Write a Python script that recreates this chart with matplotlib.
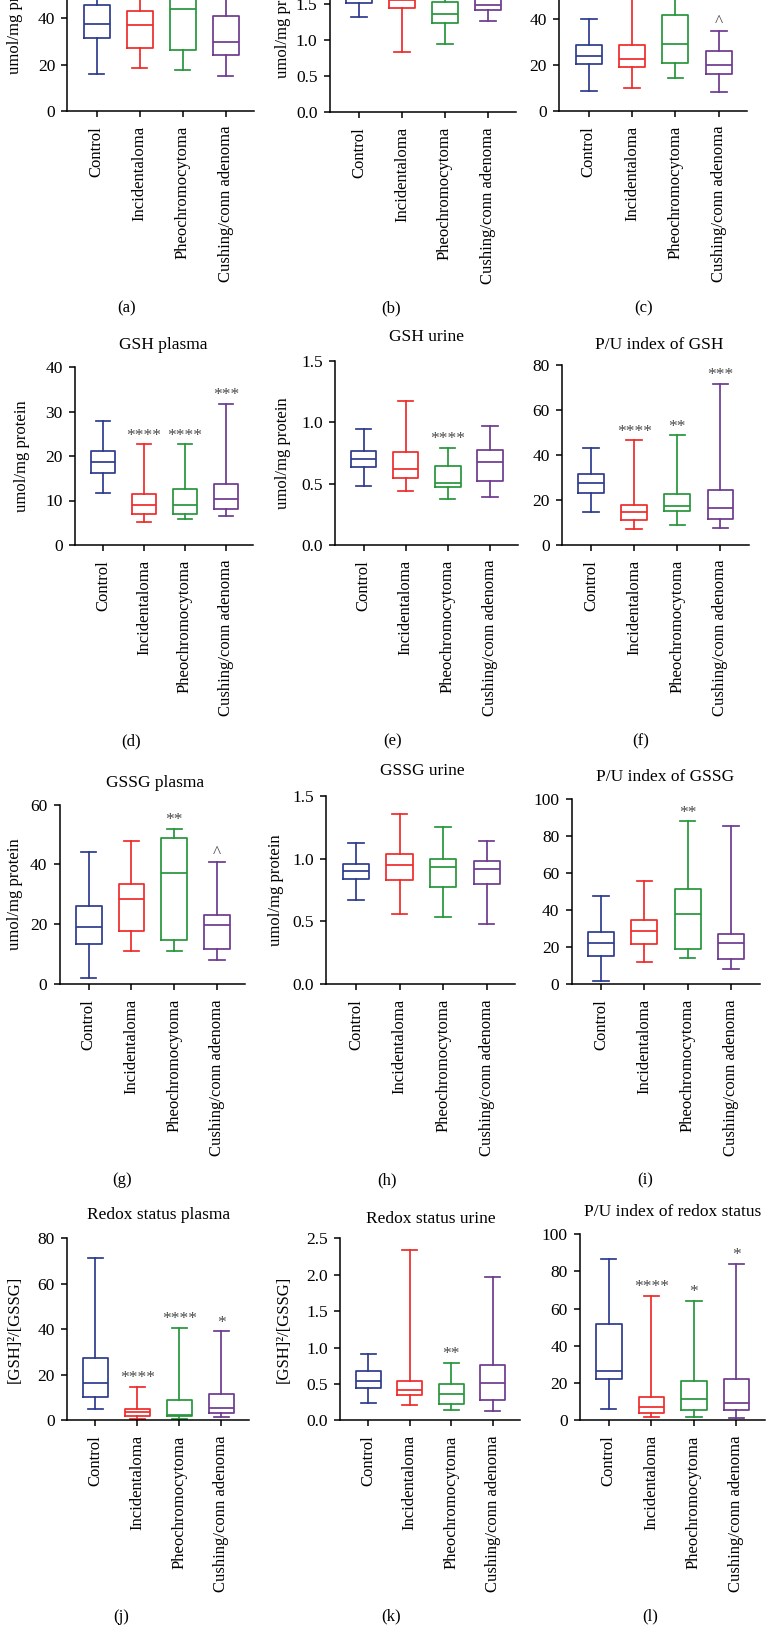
import numpy as np
import matplotlib
matplotlib.use("Agg")
import matplotlib.pyplot as plt

plt.rcParams['font.family'] = ['Liberation Serif', 'DejaVu Serif']

W, H = 766.0, 1625.0

groups = ["Control", "Incidentaloma", "Pheochromocytoma", "Cushing/conn adenoma"]
colors = ["#2d3b8e", "#ee2a2a", "#27963a", "#6c3b8f"]

# box statistics per panel: low whisker, Q1, median, Q3, high whisker
a_low = [15.9, 18.7, 17.6, 15.3]
a_q1 = [31.7, 27.4, 26.4, 24.0]
a_med = [37.4, 37.0, 44.0, 29.9]
a_q3 = [45.6, 43.3, 52.0, 40.9]
a_high = [58.0, 62.0, 68.0, 55.0]
a_marks = ["", "", "", ""]

b_low = [1.315, 0.84, 0.94, 1.27]
b_q1 = [1.52, 1.44, 1.23, 1.41]
b_med = [1.60, 1.55, 1.357, 1.48]
b_q3 = [1.70, 1.65, 1.53, 1.60]
b_high = [1.95, 2.0, 1.75, 1.8]
b_marks = ["", "", "", ""]

c_low = [8.8, 10.1, 14.5, 8.4]
c_q1 = [20.4, 19.0, 20.9, 16.1]
c_med = [24.0, 22.6, 29.3, 20.1]
c_q3 = [28.8, 29.0, 41.9, 26.1]
c_high = [40.0, 60.0, 62.0, 35.1]
c_marks = ["", "", "", "^"]

d_low = [11.7, 5.2, 5.8, 6.5]
d_q1 = [16.1, 6.9, 6.9, 8.2]
d_med = [18.7, 9.0, 9.1, 10.4]
d_q3 = [21.1, 11.5, 12.6, 13.6]
d_high = [27.9, 22.6, 22.6, 31.7]
d_marks = ["", "****", "****", "***"]

e_low = [0.478, 0.443, 0.373, 0.389]
e_q1 = [0.636, 0.544, 0.470, 0.522]
e_med = [0.701, 0.617, 0.503, 0.679]
e_q3 = [0.769, 0.760, 0.641, 0.777]
e_high = [0.943, 1.174, 0.793, 0.972]
e_marks = ["", "", "****", ""]

f_low = [14.5, 7.1, 8.9, 7.7]
f_q1 = [23.1, 11.2, 15.1, 11.4]
f_med = [27.4, 14.5, 17.4, 16.5]
f_q3 = [31.6, 17.9, 22.6, 24.5]
f_high = [43.0, 46.4, 48.6, 71.5]
f_marks = ["", "****", "**", "***"]

g_low = [2.0, 11.0, 11.1, 7.9]
g_q1 = [13.4, 17.6, 14.6, 11.7]
g_med = [19.0, 28.4, 37.1, 19.6]
g_q3 = [26.0, 33.5, 48.8, 23.1]
g_high = [44.1, 47.8, 51.9, 40.9]
g_marks = ["", "", "**", "^"]

h_low = [0.668, 0.561, 0.535, 0.481]
h_q1 = [0.836, 0.828, 0.774, 0.796]
h_med = [0.904, 0.950, 0.931, 0.920]
h_q3 = [0.960, 1.035, 0.995, 0.984]
h_high = [1.128, 1.354, 1.253, 1.139]
h_marks = ["", "", "", ""]

i_low = [1.8, 11.7, 13.9, 8.1]
i_q1 = [15.0, 21.6, 18.8, 13.4]
i_med = [22.3, 28.8, 37.7, 22.3]
i_q3 = [28.3, 34.8, 51.0, 27.2]
i_high = [47.6, 55.7, 87.7, 85.4]
i_marks = ["", "", "**", ""]

j_low = [5.1, 0.7, 0.5, 1.6]
j_q1 = [10.2, 2.0, 1.7, 3.1]
j_med = [16.5, 3.5, 2.3, 5.3]
j_q3 = [27.5, 5.1, 8.8, 11.4]
j_high = [71.5, 14.8, 40.7, 39.1]
j_marks = ["", "****", "****", "*"]

k_low = [0.242, 0.206, 0.138, 0.128]
k_q1 = [0.440, 0.344, 0.220, 0.275]
k_med = [0.545, 0.421, 0.358, 0.509]
k_q3 = [0.674, 0.536, 0.503, 0.765]
k_high = [0.912, 2.343, 0.792, 1.962]
k_marks = ["", "", "**", ""]

l_low = [6.1, 1.6, 1.9, 1.2]
l_q1 = [22.3, 3.9, 5.5, 5.5]
l_med = [26.6, 7.0, 11.6, 9.3]
l_q3 = [51.7, 12.3, 21.3, 22.3]
l_high = [86.7, 66.7, 64.0, 84.1]
l_marks = ["", "****", "*", "*"]

titles = ["", "", "", "GSH plasma", "GSH urine", "P/U index of GSH",
          "GSSG plasma", "GSSG urine", "P/U index of GSSG",
          "Redox status plasma", "Redox status urine", "P/U index of redox status"]
ylabels = ["umol/mg protein", "umol/mg protein", "",
           "umol/mg protein", "umol/mg protein", "",
           "umol/mg protein", "umol/mg protein", "",
           "[GSH]\u00b2/[GSSG]", "[GSH]\u00b2/[GSSG]", ""]
yticks = [np.arange(0, 81, 20), np.arange(0, 2.51, 0.5), np.arange(0, 81, 20),
          np.arange(0, 41, 10), np.arange(0, 1.51, 0.5), np.arange(0, 81, 20),
          np.arange(0, 61, 20), np.arange(0, 1.51, 0.5), np.arange(0, 101, 20),
          np.arange(0, 81, 20), np.arange(0, 2.51, 0.5), np.arange(0, 101, 20)]
tickfmt = ["%d", "%.1f", "%d", "%d", "%.1f", "%d", "%d", "%.1f", "%d", "%d", "%.1f", "%d"]

data = [
    (a_low, a_q1, a_med, a_q3, a_high, a_marks),
    (b_low, b_q1, b_med, b_q3, b_high, b_marks),
    (c_low, c_q1, c_med, c_q3, c_high, c_marks),
    (d_low, d_q1, d_med, d_q3, d_high, d_marks),
    (e_low, e_q1, e_med, e_q3, e_high, e_marks),
    (f_low, f_q1, f_med, f_q3, f_high, f_marks),
    (g_low, g_q1, g_med, g_q3, g_high, g_marks),
    (h_low, h_q1, h_med, h_q3, h_high, h_marks),
    (i_low, i_q1, i_med, i_q3, i_high, i_marks),
    (j_low, j_q1, j_med, j_q3, j_high, j_marks),
    (k_low, k_q1, k_med, k_q3, k_high, k_marks),
    (l_low, l_q1, l_med, l_q3, l_high, l_marks),
]

# layout in pixels: y-axis x, x-axis end, y of zero, y of top of axes
frames = [
    (67.4, 254.0, 111.0, -74.4), (329.7, 516.3, 112.0, -68.0), (559.3, 747.4, 111.0, -72.4),
    (75.0, 253.0, 545.0, 367.0), (335.1, 517.8, 545.0, 360.7), (561.8, 748.9, 545.0, 364.7),
    (59.6, 245.2, 984.0, 804.7), (326.3, 515.4, 984.0, 796.0), (571.6, 759.6, 984.0, 798.7),
    (66.9, 249.1, 1420.3, 1238.3), (340.0, 520.3, 1420.3, 1238.3), (579.9, 764.5, 1420.3, 1234.0),
]
title_pos = [None, None, None,
             (163.6, 345.0), (426.5, 337.3), (659.5, 345.0),
             (155.3, 783.3), (422.6, 770.7), (665.4, 776.7),
             (158.8, 1215.0), (430.9, 1219.0), (672.7, 1212.3)]
ylabel_x = [14.7, 283.3, None, 22.0, 283.3, None, 14.7, 276.0, None, 14.7, 283.3, None]
letter_pos = [(127, 308), (391, 308), (644, 308),
              (131, 741.7), (393, 741.7), (641, 741.7),
              (122, 1180), (387, 1180), (645, 1180),
              (121, 1616.7), (391, 1616.7), (650, 1616.7)]
letters = "abcdefghijkl"

fig = plt.figure(figsize=(W / 100, H / 100), dpi=100)

for n in range(12):
    x0, x1, y0, ytop = frames[n]
    ax = fig.add_axes([x0 / W, 1 - y0 / H, (x1 - x0) / W, (y0 - ytop) / H])
    low, q1, med, q3, high, marks = data[n]
    stats = []
    for k in range(4):
        stats.append(dict(whislo=low[k], q1=q1[k], med=med[k], q3=q3[k],
                          whishi=high[k], label=groups[k]))
    pos = [1, 2, 3, 4]
    bp = ax.bxp(stats, positions=pos, widths=0.6, capwidths=0.36, showfliers=False)
    for k in range(4):
        col = colors[k]
        bp['boxes'][k].set( color=col, linewidth=1.25 )
        bp['medians'][k].set( color=col, linewidth=1.25 )
        for art in bp['whiskers'][2*k:2*k+2] + bp['caps'][2*k:2*k+2]:
            art.set( color=col, linewidth=1.25 )
        if marks[k]:
            ax.annotate(marks[k], (pos[k], high[k]), xytext=(0, 0.5),
                        textcoords='offset points', ha='center', va='bottom',
                        fontsize=12.5, color='#4a4a4a')

    yt = yticks[n]
    ax.set_ylim(0, yt[-1])
    ax.set_xlim(0.32, 4.66)
    ax.set_yticks(yt)
    ax.set_yticklabels([tickfmt[n] % v for v in yt], fontsize=12.5)
    ax.set_xticks(pos)
    ax.set_xticklabels(groups, rotation=90, fontsize=12)
    ax.tick_params(direction='out', length=4.3, width=1.1, pad=4.5, color='black')
    ax.tick_params(axis='x', pad=6.5)
    for s in ['top', 'right']:
        ax.spines[s].set_visible(False)
    for s in ['left', 'bottom']:
        ax.spines[s].set_linewidth(1.1)
    ax.patch.set_alpha(0)

    if title_pos[n] is not None:
        tx, ty = title_pos[n]
        fig.text(tx / W, 1 - ty / H, titles[n], ha='center', va='center', fontsize=12.5)
    if ylabel_x[n] is not None:
        fig.text(ylabel_x[n] / W, 1 - (y0 + ytop) / 2 / H, ylabels[n],
                 rotation=90, ha='center', va='center', fontsize=12)
    lx, ly = letter_pos[n]
    fig.text(lx / W, 1 - ly / H, "(" + letters[n] + ")", ha='center', va='center', fontsize=12)

fig.savefig("out.png", dpi=100)
